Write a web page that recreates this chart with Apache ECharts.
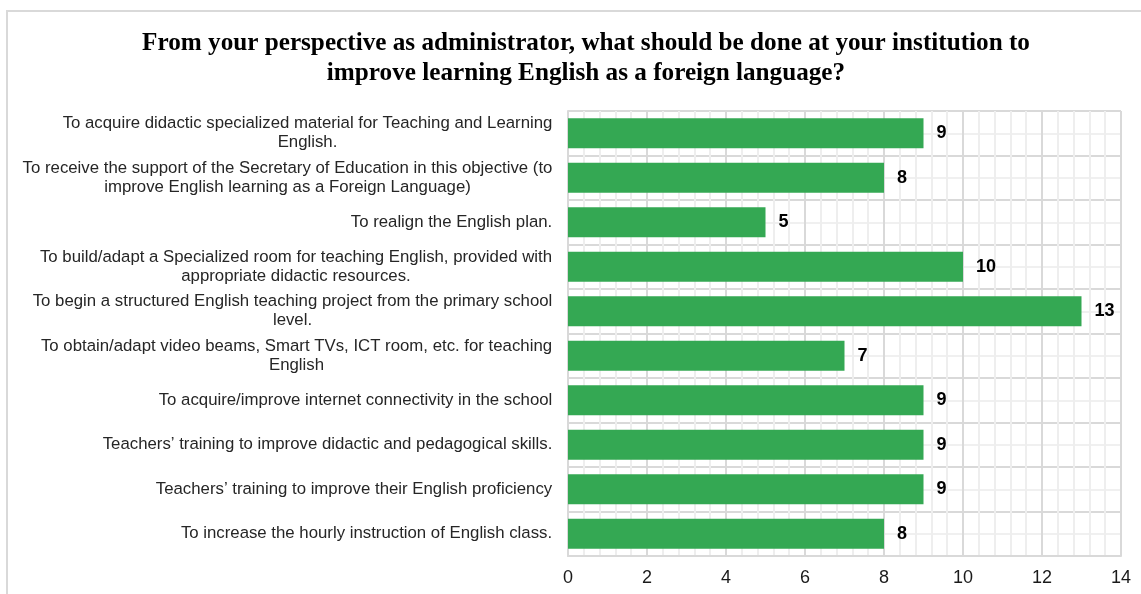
<!DOCTYPE html>
<html>
<head>
<meta charset="utf-8">
<script src="https://cdn.jsdelivr.net/npm/echarts@6/dist/echarts.min.js"></script>
<style>
  html, body { margin: 0; padding: 0; background: #fff; }
  #chart { width: 1141px; height: 594px; }
</style>
</head>
<body>
<div id="chart"></div>
<script>
// Survey answers (one line break per wrapped label line)
const categories = [
  'To acquire didactic specialized material for Teaching and Learning\nEnglish.',
  'To receive the support of the Secretary of Education in this objective (to\nimprove English learning as a Foreign Language)',
  'To realign the English plan.',
  'To build/adapt a Specialized room for teaching English, provided with\nappropriate didactic resources.',
  'To begin a structured English teaching project from the primary school\nlevel.',
  'To obtain/adapt video beams, Smart TVs, ICT room, etc. for teaching\nEnglish',
  'To acquire/improve internet connectivity in the school',
  'Teachers\u2019 training to improve didactic and pedagogical skills.',
  'Teachers\u2019 training to improve their English proficiency',
  'To increase the hourly instruction of English class.'
];
const responses = [9, 8, 5, 10, 13, 7, 9, 9, 9, 8];
const axisMax = 14;
const axisStep = 2;

const titleText = 'From your perspective as administrator, what should be done at your institution to\nimprove learning English as a foreign language?';

const LABEL_FONT = '"Liberation Sans", Arial, sans-serif';
const LABEL_SIZE = 16.8;

// Each label block is right-aligned to the axis, its lines centered inside the block.
const ctx = document.createElement('canvas').getContext('2d');
ctx.font = LABEL_SIZE + 'px ' + LABEL_FONT;
const rich = {};
categories.forEach((c, i) => {
  const w = Math.max(...c.split('\n').map(l => ctx.measureText(l).width));
  rich['c' + i] = {
    width: Math.ceil(w) + 1,
    align: 'center',
    fontSize: LABEL_SIZE,
    fontFamily: LABEL_FONT,
    color: '#262626',
    lineHeight: 19
  };
});

const chart = echarts.init(document.getElementById('chart'), null, { renderer: 'canvas' });
chart.setOption({
  backgroundColor: '#ffffff',
  animation: false,
  graphic: [{
    type: 'rect',
    shape: { x: 7, y: 11, width: 1160, height: 620 },
    style: { fill: 'none', stroke: '#d9d9d9', lineWidth: 2 },
    silent: true,
    z: -10
  }],
  title: {
    text: titleText,
    left: 581,
    top: 23,
    textAlign: 'center',
    textStyle: {
      fontFamily: '"Liberation Serif", "Times New Roman", serif',
      fontWeight: 'bold',
      fontSize: 25.2,
      lineHeight: 30,
      color: '#000'
    }
  },
  grid: { left: 568, right: 20, top: 111, bottom: 38, containLabel: false },
  xAxis: {
    type: 'value',
    min: 0,
    max: axisMax,
    interval: axisStep,
    axisLine: { show: true, lineStyle: { color: '#d9d9d9', width: 2 } },
    axisTick: { show: false },
    axisLabel: {
      margin: 13,
      fontFamily: LABEL_FONT,
      fontSize: 18,
      color: '#1a1a1a'
    },
    splitLine: { show: true, lineStyle: { color: '#d9d9d9', width: 2 } },
    minorTick: { show: false, splitNumber: 5 },
    minorSplitLine: { show: true, lineStyle: { color: '#eeeeee', width: 2 } }
  },
  yAxis: [{
    type: 'category',
    inverse: true,
    data: categories,
    axisLine: { show: true, lineStyle: { color: '#d9d9d9', width: 2 } },
    axisTick: { show: false },
    splitLine: { show: false },
    axisLabel: {
      margin: 15,
      interval: 0,
      formatter: (value, idx) => value.split('\n').map(l => '{c' + idx + '|' + l + '}').join('\n'),
      rich: rich
    }
  }, {
    // Background grid: row boundaries plus a faint line through each row
    type: 'value',
    min: 0,
    max: categories.length,
    interval: 1,
    axisLine: { show: false },
    axisTick: { show: false },
    axisLabel: { show: false },
    splitLine: { show: true, lineStyle: { color: '#d9d9d9', width: 2 } },
    minorTick: { show: false, splitNumber: 2 },
    minorSplitLine: { show: true, lineStyle: { color: '#f0f0f0', width: 2 } }
  }],
  series: [{
    type: 'bar',
    data: responses,
    yAxisIndex: 0,
    barWidth: 30,
    itemStyle: { color: '#34a853' },
    label: {
      show: true,
      position: 'right',
      distance: 13,
      fontFamily: LABEL_FONT,
      fontWeight: 'bold',
      fontSize: 18,
      color: '#000'
    }
  }]
});
</script>
</body>
</html>
